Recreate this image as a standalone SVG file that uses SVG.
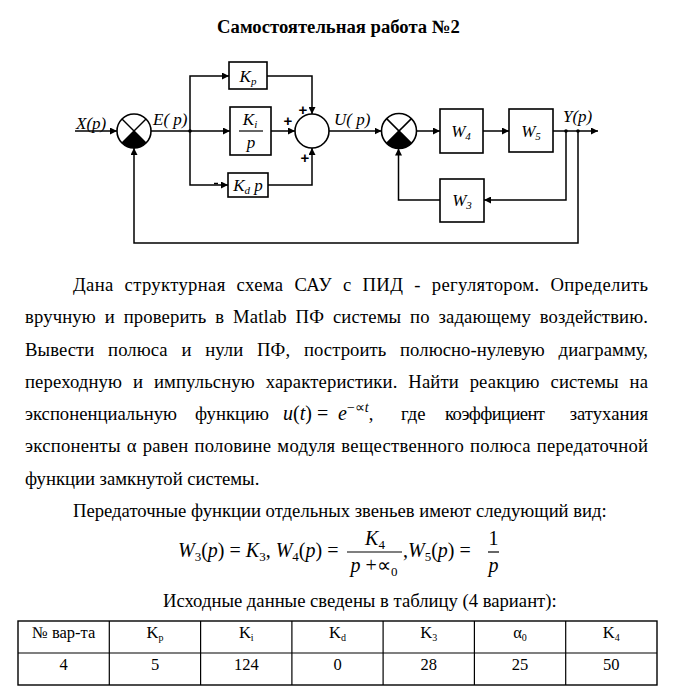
<svg xmlns="http://www.w3.org/2000/svg" width="677" height="696" viewBox="0 0 677 696">
<style>
.t{font-family:"Liberation Serif","Times New Roman",serif;font-size:18.67px;fill:#000}
.m{font-family:"Liberation Serif","Times New Roman",serif;font-style:italic;font-size:20px;fill:#000}
.mu{font-family:"Liberation Serif","Times New Roman",serif;font-size:20px;fill:#000}
.lb{font-family:"Liberation Serif","Times New Roman",serif;font-style:italic;font-size:17px;fill:#000}
.tb{font-family:"Liberation Serif","Times New Roman",serif;font-size:16.5px;fill:#000}
.box{fill:#fff;stroke:#000;stroke-width:1.6}
.ln{fill:none;stroke:#000;stroke-width:1.5}
.plus{font-family:"Liberation Sans",Arial,sans-serif;font-weight:bold;font-size:15px;fill:#000}
.sub{font-size:11px}
</style>
<defs>
<marker id="ar" viewBox="0 0 10 10" refX="10" refY="5" markerWidth="7" markerHeight="7" markerUnits="userSpaceOnUse" orient="auto"><path d="M0,0 L10,5 L0,10 Z" fill="#000"/></marker>
</defs>
<rect width="677" height="696" fill="#fff"/>

<text x="338.5" y="33" text-anchor="middle" class="t" style="font-weight:bold">Самостоятельная работа №2</text>

<g id="connectors">
<line class="ln" x1="75" y1="131" x2="117" y2="131" marker-end="url(#ar)"/>
<line class="ln" x1="151" y1="131" x2="230" y2="131" marker-end="url(#ar)"/>
<polyline class="ln" points="190,131 190,76 229,76" marker-end="url(#ar)"/>
<polyline class="ln" points="190,131 190,185 228,185" marker-end="url(#ar)"/>
<polyline class="ln" points="267,76 312,76 312,114" marker-end="url(#ar)"/>
<line class="ln" x1="271" y1="131" x2="295" y2="131" marker-end="url(#ar)"/>
<polyline class="ln" points="268,185 312,185 312,148" marker-end="url(#ar)"/>
<line class="ln" x1="329" y1="131" x2="381.5" y2="131" marker-end="url(#ar)"/>
<line class="ln" x1="416.5" y1="131" x2="440" y2="131" marker-end="url(#ar)"/>
<line class="ln" x1="483" y1="131" x2="509" y2="131" marker-end="url(#ar)"/>
<line class="ln" x1="553" y1="131" x2="598" y2="131" marker-end="url(#ar)"/>
<polyline class="ln" points="566,131 566,200 484,200" marker-end="url(#ar)"/>
<polyline class="ln" points="440,200 398.5,200 398.5,148.5" marker-end="url(#ar)"/>
<polyline class="ln" points="578,131 578,243 134,243 134,148" marker-end="url(#ar)"/>
<line class="ln" x1="214" y1="183.5" x2="218" y2="183.5" stroke-width="1"/>
<circle cx="190" cy="131" r="1.8" fill="#000"/>
<circle cx="566" cy="131" r="1.8" fill="#000"/>
<circle cx="578" cy="131" r="1.8" fill="#000"/>
</g>

<text x="76" y="129" class="lb">X(p)</text>
<text x="153" y="125" class="lb">E( p)</text>
<text x="334" y="125" class="lb">U( p)</text>
<text x="563" y="122" class="lb">Y(p)</text>

<g id="sum1">
<circle cx="134" cy="131" r="17" fill="#fff" stroke="#000" stroke-width="1.6"/>
<path d="M134,131 L122,143 A17,17 0 0 0 146,143 Z" fill="#000"/>
<line class="ln" x1="122" y1="119" x2="146" y2="143"/>
<line class="ln" x1="146" y1="119" x2="122" y2="143"/>
</g>

<g id="Kp">
<rect class="box" x="229" y="62" width="38" height="27"/>
<text x="248" y="82" text-anchor="middle" class="lb">K<tspan class="sub" dy="3">p</tspan></text>
</g>

<g id="Ki">
<rect class="box" x="230" y="107" width="41" height="48"/>
<text x="250" y="125" text-anchor="middle" class="lb">K<tspan class="sub" dy="3">i</tspan></text>
<line x1="239" y1="131" x2="263" y2="131" stroke="#000" stroke-width="1.2"/>
<text x="251" y="148" text-anchor="middle" class="lb">p</text>
</g>

<g id="Kd">
<rect class="box" x="228" y="173" width="40" height="24"/>
<text x="248" y="191" text-anchor="middle" class="lb">K<tspan class="sub" dy="3">d</tspan><tspan dy="-3"> p</tspan></text>
</g>

<g id="sum2">
<circle cx="312" cy="131" r="17" fill="#fff" stroke="#000" stroke-width="1.6"/>
<text x="303" y="115" text-anchor="middle" class="plus">+</text>
<text x="288" y="126" text-anchor="middle" class="plus">+</text>
<text x="305" y="163" text-anchor="middle" class="plus">+</text>
</g>

<g id="sum3">
<circle cx="399" cy="131" r="17.5" fill="#fff" stroke="#000" stroke-width="1.6"/>
<path d="M399,131 L386.6,143.4 A17.5,17.5 0 0 0 411.4,143.4 Z" fill="#000"/>
<line class="ln" x1="386.6" y1="118.6" x2="411.4" y2="143.4"/>
<line class="ln" x1="411.4" y1="118.6" x2="386.6" y2="143.4"/>
</g>

<g id="W4">
<rect class="box" x="440" y="109" width="43" height="44"/>
<text x="461" y="137" text-anchor="middle" class="lb">W<tspan class="sub" dy="3">4</tspan></text>
</g>
<g id="W5">
<rect class="box" x="509" y="109" width="44" height="43"/>
<text x="531" y="137" text-anchor="middle" class="lb">W<tspan class="sub" dy="3">5</tspan></text>
</g>
<g id="W3">
<rect class="box" x="440" y="179" width="44" height="43"/>
<text x="462" y="206" text-anchor="middle" class="lb">W<tspan class="sub" dy="3">3</tspan></text>
</g>

<text x="73" y="291" class="t" word-spacing="6" textLength="575" lengthAdjust="spacing">Дана структурная схема САУ с ПИД - регулятором. Определить</text>
<text x="25" y="323.25" class="t" word-spacing="4" textLength="623" lengthAdjust="spacing">вручную и проверить в Matlab ПФ системы по задающему воздействию.</text>
<text x="25" y="355.5" class="t" word-spacing="9" textLength="623" lengthAdjust="spacing">Вывести полюса и нули ПФ, построить полюсно-нулевую диаграмму,</text>
<text x="25" y="387.75" class="t" word-spacing="6" textLength="623" lengthAdjust="spacing">переходную и импульсную характеристики. Найти реакцию системы на</text>
<text x="25" y="420" class="t">экспоненциальную</text>
<text x="195" y="420" class="t">функцию</text>
<text x="283" y="420" class="m">u<tspan font-style="normal">(</tspan>t<tspan font-style="normal">) =</tspan></text>
<text x="338" y="420" class="m">e<tspan font-size="14" dy="-8" font-style="normal">−∝</tspan><tspan font-size="14">t</tspan><tspan dy="8" font-style="normal" font-size="18.67">,</tspan></text>
<text x="401" y="420" class="t">где</text>
<text x="445" y="420" class="t" textLength="100" lengthAdjust="spacing">коэффициент</text>
<text x="648" y="420" class="t" text-anchor="end">затухания</text>
<text x="25" y="452.25" class="t" word-spacing="1" textLength="623" lengthAdjust="spacing">экспоненты α равен половине модуля вещественного полюса передаточной</text>
<text x="25" y="484.5" class="t">функции замкнутой системы.</text>

<text x="73" y="517" class="t">Передаточные функции отдельных звеньев имеют следующий вид:</text>

<g id="formula">
<text x="178" y="557" class="m">W<tspan dy="4" font-style="normal" font-size="13">3</tspan><tspan dy="-4" font-style="normal">(</tspan>p<tspan font-style="normal">) = </tspan>K<tspan dy="4" font-style="normal" font-size="13">3</tspan><tspan dy="-4" font-style="normal">, </tspan>W<tspan dy="4" font-style="normal" font-size="13">4</tspan><tspan dy="-4" font-style="normal">(</tspan>p<tspan font-style="normal">) =</tspan></text>
<line x1="347" y1="552" x2="402" y2="552" stroke="#000" stroke-width="1.2"/>
<text x="375" y="545" text-anchor="middle" class="m">K<tspan dy="4" font-style="normal" font-size="13">4</tspan></text>
<text x="374" y="572" text-anchor="middle" class="m">p <tspan font-style="normal">+∝</tspan><tspan dy="4" font-style="normal" font-size="13">0</tspan></text>
<text x="403" y="557" class="m"><tspan font-style="normal">,</tspan>W<tspan dy="4" font-style="normal" font-size="13">5</tspan><tspan dy="-4" font-style="normal">(</tspan>p<tspan font-style="normal">) =</tspan></text>
<line x1="488" y1="552" x2="499" y2="552" stroke="#000" stroke-width="1.2"/>
<text x="493.5" y="545" text-anchor="middle" class="mu">1</text>
<text x="493.5" y="572" text-anchor="middle" class="m">p</text>
</g>

<text x="163" y="607" class="t">Исходные данные сведены в таблицу (4 вариант):</text>

<g id="table">
<rect x="18" y="621" width="639" height="64" fill="none" stroke="#000" stroke-width="1.4"/>
<line x1="18" y1="653" x2="657" y2="653" stroke="#000" stroke-width="1.2"/>
<g stroke="#000" stroke-width="1.2">
<line x1="109.3" y1="621" x2="109.3" y2="685"/>
<line x1="200.6" y1="621" x2="200.6" y2="685"/>
<line x1="291.9" y1="621" x2="291.9" y2="685"/>
<line x1="383.1" y1="621" x2="383.1" y2="685"/>
<line x1="474.4" y1="621" x2="474.4" y2="685"/>
<line x1="565.7" y1="621" x2="565.7" y2="685"/>
</g>
<g class="tb" text-anchor="middle">
<text x="63.7" y="638">№ вар-та</text>
<text x="155" y="638">K<tspan font-size="10" dy="3">p</tspan></text>
<text x="246.3" y="638">K<tspan font-size="10" dy="3">i</tspan></text>
<text x="337.5" y="638">K<tspan font-size="10" dy="3">d</tspan></text>
<text x="428.8" y="638">K<tspan font-size="10" dy="3">3</tspan></text>
<text x="520" y="638">α<tspan font-size="10" dy="3">0</tspan></text>
<text x="611.3" y="638">K<tspan font-size="10" dy="3">4</tspan></text>
<text x="63.7" y="670">4</text>
<text x="155" y="670">5</text>
<text x="246.3" y="670">124</text>
<text x="337.5" y="670">0</text>
<text x="428.8" y="670">28</text>
<text x="520" y="670">25</text>
<text x="611.3" y="670">50</text>
</g>
</g>
</svg>
